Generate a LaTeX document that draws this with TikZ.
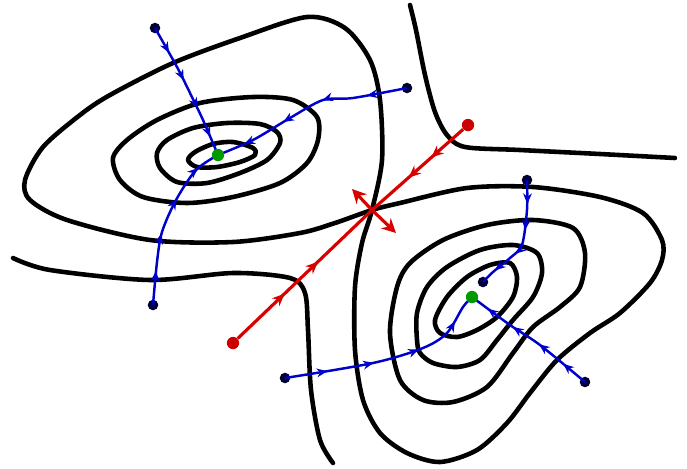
\documentclass[tikz,border=0pt]{standalone}
\usetikzlibrary{arrows.meta,decorations.markings}

\tikzset{
  isoline/.style={line width=2.6pt, line cap=round, line join=round},
  descent/.style={blue!80!black, line width=1.4pt, postaction={decorate},
    decoration={markings, mark=between positions 0.2 and 0.9 step 0.22 with {\arrow{Stealth[length=6pt,width=5pt]}}}},
  sepline/.style={red!85!black, line width=1.8pt, postaction={decorate},
    decoration={markings, mark=between positions 0.35 and 0.75 step 0.25 with {\arrow{Stealth[length=7pt,width=6pt]}}}},
  enddot/.style={circle, fill=black!80!blue, inner sep=0pt, minimum size=6pt},
  reddot/.style={circle, fill=red!80!black, inner sep=0pt, minimum size=7pt},
  mindot/.style={circle, fill=green!60!black, inner sep=0pt, minimum size=7pt},
}

\begin{document}
\begin{tikzpicture}[x=0.02cm, y=-0.02cm]
    \useasboundingbox (0,0) rectangle (687,468);

    % Critical points
    \coordinate (minA) at (218,155);
    \coordinate (minB) at (472,297);
    \coordinate (saddle) at (372,210);

    % Level lines around the left minimum
    \draw[isoline] plot[smooth cycle] coordinates {(188,160) (195,152) (213,144) (233,142) (253,148) (255,155) (240,162) (217,167) (197,167)};
    \draw[isoline] plot[smooth cycle] coordinates {(157,153) (167,140) (193,128) (227,123) (260,124) (277,132) (280,143) (267,160) (240,173) (207,183) (177,182) (160,168)};
    \draw[isoline] plot[smooth cycle] coordinates {(113,158) (127,140) (157,120) (200,103) (253,97) (293,100) (317,117) (318,140) (307,163) (280,183) (233,197) (187,203) (143,197) (120,180)};

    % Level lines around the right minimum
    \draw[isoline] plot[smooth cycle] coordinates {(435,320) (447,297) (467,277) (490,265) (510,263) (517,277) (513,297) (497,317) (477,330) (457,337) (440,333)};
    \draw[isoline] plot[smooth cycle] coordinates {(417,340) (417,313) (427,287) (447,267) (480,250) (513,245) (537,253) (542,273) (533,297) (513,320) (497,340) (480,360) (457,367) (433,363) (420,353)};
    \draw[isoline] plot[smooth cycle] coordinates {(390,333) (397,287) (410,263) (443,240) (487,225) (533,220) (573,228) (585,253) (580,287) (560,307) (533,327) (513,353) (487,387) (453,402) (423,400) (400,380)};

    % Level line through the saddle (figure eight)
    \draw[isoline] plot[smooth cycle] coordinates {(saddle) (382,160) (380,100) (370,60) (345,28) (307,17) (240,38) (173,63) (110,95) (80,115) (43,147) (25,180) (30,200) (67,220) (150,240) (233,242) (300,233) (335,223)
      (saddle) (400,203) (467,188) (533,187) (600,197) (643,213) (662,240) (662,260) (650,283) (620,313) (590,333) (557,360) (530,393) (507,423) (477,450) (440,462) (407,453) (380,433) (363,400) (355,350) (355,287) (362,243)};

    % Outer level lines
    \draw[isoline] plot[smooth] coordinates {(13,258) (50,270) (150,280) (233,273) (290,278) (305,293) (308,330) (311,390) (320,440) (333,463)};
    \draw[isoline] plot[smooth] coordinates {(410,5) (416,30) (425,75) (435,112) (447,135) (465,147) (520,150) (600,154) (675,158)};

    % Descent paths into the left minimum
    \node[enddot] (a1) at (155,28) {};
    \node[enddot] (a2) at (407,88) {};
    \node[enddot] (a3) at (153,305) {};
    \draw[descent] plot[smooth] coordinates {(a1) (177,67) (190,93) (203,120) (minA)};
    \draw[descent] plot[smooth] coordinates {(a2) (353,98) (323,100) (290,118) (253,140) (minA)};
    \draw[descent] plot[smooth] coordinates {(a3) (157,262) (162,232) (176,200) (196,170) (minA)};

    % Descent paths into the right minimum
    \node[enddot] (b1) at (527,180) {};
    \node[enddot] (b2) at (585,382) {};
    \node[enddot] (b3) at (285,378) {};
    \node[enddot] (b1e) at (483,282) {};
    \draw[descent] plot[smooth] coordinates {(b1) (527,210) (522,245) (510,258) (493,272) (b1e)};
    \draw[descent] plot[smooth] coordinates {(b2) (540,345) (510,325) (minB)};
    \draw[descent] plot[smooth] coordinates {(b3) (373,363) (423,348) (447,333) (463,307) (minB)};

    % Minima on top
    \node[mindot] (minAdot) at (minA) {};
    \node[mindot] (minBdot) at (minB) {};

    % Separatrix through the saddle
    \node[reddot] (r1) at (233,343) {};
    \node[reddot] (r2) at (468,125) {};
    \coordinate (outA) at (352,189);
    \coordinate (outB) at (396,233);
    \draw[sepline] (r1) -- (saddle);
    \draw[sepline] (r2) -- (saddle);
    \draw[red!85!black, line width=1.8pt, -{Stealth[length=8pt,width=8pt]}] (saddle) -- (outA);
    \draw[red!85!black, line width=1.8pt, -{Stealth[length=8pt,width=8pt]}] (saddle) -- (outB);
\end{tikzpicture}
\end{document}
